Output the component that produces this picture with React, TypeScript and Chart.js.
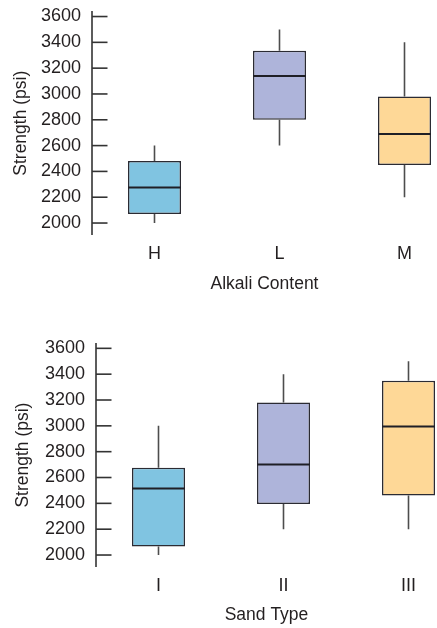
import { useEffect, useRef } from 'react';
import { Chart, registerables } from 'chart.js';

Chart.register(...registerables);

const FONT = "'Liberation Sans', Arial, Helvetica, sans-serif";
const TEXT = '#231f20';

// Strength (psi) box-plot summaries: min, Q1, median, Q3, max
const alkaliCategories = ['H', 'L', 'M'];
const alkaliMin = [2000, 2600, 2200];
const alkaliQ1 = [2070, 2800, 2450];
const alkaliMedian = [2275, 3140, 2690];
const alkaliQ3 = [2480, 3335, 2980];
const alkaliMax = [2600, 3500, 3400];

const sandCategories = ['I', 'II', 'III'];
const sandMin = [2000, 2200, 2200];
const sandQ1 = [2065, 2395, 2460];
const sandMedian = [2515, 2700, 2995];
const sandQ3 = [2675, 3180, 3350];
const sandMax = [3000, 3400, 3500];

const strengthTicks = [2000, 2200, 2400, 2600, 2800, 3000, 3200, 3400, 3600];
const boxColors = ['#80c4e1', '#aeb4da', '#fed897'];

type PanelProps = {
  categories: string[];
  mins: number[];
  q1s: number[];
  medians: number[];
  q3s: number[];
  maxs: number[];
  xTitle: string;
  height: number;
  axisLeft: number;
  padTop: number;
  xAxisHeight: number;
  yTitlePad: number;
  tickPad: number;
  titlePadBottom: number;
};

const WIDTH = 437;
const CATEGORY_PX = 125;

function makeBoxPlugin(mins: number[], medians: number[], maxs: number[], q1s: number[], q3s: number[]) {
  return {
    id: 'boxWhiskers',
    beforeDatasetsDraw(chart: any) {
      const ys = chart.scales.y;
      const ctx = chart.ctx;
      const meta = chart.getDatasetMeta(0);
      ctx.save();
      ctx.strokeStyle = '#4d4d4d';
      ctx.lineWidth = 1.6;
      meta.data.forEach((bar: any, i: number) => {
        const x = bar.x;
        ctx.beginPath();
        ctx.moveTo(x, ys.getPixelForValue(q3s[i]));
        ctx.lineTo(x, ys.getPixelForValue(maxs[i]));
        ctx.moveTo(x, ys.getPixelForValue(q1s[i]));
        ctx.lineTo(x, ys.getPixelForValue(mins[i]));
        ctx.stroke();
      });
      ctx.restore();
    },
    afterDatasetsDraw(chart: any) {
      const ys = chart.scales.y;
      const ctx = chart.ctx;
      const meta = chart.getDatasetMeta(0);
      ctx.save();
      ctx.strokeStyle = '#1f1f26';
      ctx.lineWidth = 2;
      meta.data.forEach((bar: any, i: number) => {
        const half = bar.width / 2;
        const y = ys.getPixelForValue(medians[i]);
        ctx.beginPath();
        ctx.moveTo(bar.x - half, y);
        ctx.lineTo(bar.x + half, y);
        ctx.stroke();
      });
      ctx.restore();
    },
  };
}

// Tick marks that point into the plot area
const inwardTicks = {
  id: 'inwardTicks',
  afterDraw(chart: any) {
    const ys = chart.scales.y;
    const left = chart.chartArea.left;
    const ctx = chart.ctx;
    ctx.save();
    ctx.strokeStyle = '#333333';
    ctx.lineWidth = 1.6;
    ys.ticks.forEach((t: any) => {
      const py = ys.getPixelForValue(t.value);
      ctx.beginPath();
      ctx.moveTo(left, py);
      ctx.lineTo(left + 15.5, py);
      ctx.stroke();
    });
    ctx.restore();
  },
};

function BoxPanel(p: PanelProps) {
  const ref = useRef<HTMLCanvasElement>(null);

  useEffect(() => {
    if (!ref.current) return;
    const chart = new Chart(ref.current, {
      type: 'bar',
      data: {
        datasets: [
          {
            data: p.categories.map((_, i) => ({ x: i + 1, y: [p.q1s[i], p.q3s[i]] })) as any,
            backgroundColor: boxColors,
            borderColor: '#2b2b33',
            borderWidth: 1.5,
            borderSkipped: false,
            barPercentage: 0.424,
            categoryPercentage: 1,
            clip: false,
          },
        ],
      },
      options: {
        responsive: false,
        animation: false,
        devicePixelRatio: 1,
        layout: { padding: { top: p.padTop, left: 0, right: 0, bottom: 0 } },
        plugins: { legend: { display: false }, tooltip: { enabled: false } },
        scales: {
          x: {
            type: 'linear',
            offset: false,
            min: 0.5,
            max: 0.5 + (WIDTH - p.axisLeft) / CATEGORY_PX,
            afterBuildTicks: (s: any) => {
              s.ticks = p.categories.map((_, i) => ({ value: i + 1 }));
            },
            afterFit: (s: any) => {
              s.height = p.xAxisHeight;
              s.paddingLeft = 0;
              s.paddingRight = 0;
            },
            grid: { display: false, drawTicks: false },
            border: { display: false },
            ticks: {
              callback: (_v: any, i: number) => p.categories[i],
              font: { family: FONT, size: 18, lineHeight: 1.2 },
              color: TEXT,
              padding: p.tickPad,
              maxRotation: 0,
              autoSkip: false,
            },
            title: {
              display: true,
              text: p.xTitle,
              font: { family: FONT, size: 17.5, lineHeight: 1.2 },
              color: TEXT,
              padding: { top: 0, bottom: p.titlePadBottom },
            },
          },
          y: {
            min: 1915,
            max: 3632,
            afterBuildTicks: (s: any) => {
              s.ticks = strengthTicks.map((v) => ({ value: v }));
            },
            afterFit: (s: any) => {
              s.width = p.axisLeft;
              s.paddingTop = 0;
              s.paddingBottom = 0;
            },
            grid: { display: false, drawTicks: false },
            border: { display: true, color: '#5c5c5c', width: 2 },
            ticks: {
              callback: (v: any) => String(v),
              font: { family: FONT, size: 18, lineHeight: 1.2 },
              color: TEXT,
              padding: 11,
            },
            title: {
              display: true,
              text: 'Strength (psi)',
              font: { family: FONT, size: 17.5, lineHeight: 1.2 },
              color: TEXT,
              padding: { top: p.yTitlePad, bottom: 0 },
            },
          },
        },
      } as any,
      plugins: [makeBoxPlugin(p.mins, p.medians, p.maxs, p.q1s, p.q3s), inwardTicks],
    });
    return () => chart.destroy();
  }, []);

  return <canvas ref={ref} width={WIDTH} height={p.height} style={{ display: 'block' }} />;
}

export default function App() {
  useEffect(() => {
    document.body.style.margin = '0';
    document.documentElement.style.overflow = 'hidden';
    document.body.style.overflow = 'hidden';
  }, []);

  return (
    <div style={{ width: WIDTH, background: '#ffffff' }}>
      <BoxPanel
        categories={alkaliCategories}
        mins={alkaliMin}
        q1s={alkaliQ1}
        medians={alkaliMedian}
        q3s={alkaliQ3}
        maxs={alkaliMax}
        xTitle="Alkali Content"
        height={300}
        axisLeft={92}
        padTop={12.4}
        xAxisHeight={66}
        yTitlePad={10.7}
        tickPad={9.4}
        titlePadBottom={5.5}
      />
      <BoxPanel
        categories={sandCategories}
        mins={sandMin}
        q1s={sandQ1}
        medians={sandMedian}
        q3s={sandQ3}
        maxs={sandMax}
        xTitle="Sand Type"
        height={328}
        axisLeft={96}
        padTop={44.2}
        xAxisHeight={62}
        yTitlePad={12.7}
        tickPad={9}
        titlePadBottom={2}
      />
    </div>
  );
}
